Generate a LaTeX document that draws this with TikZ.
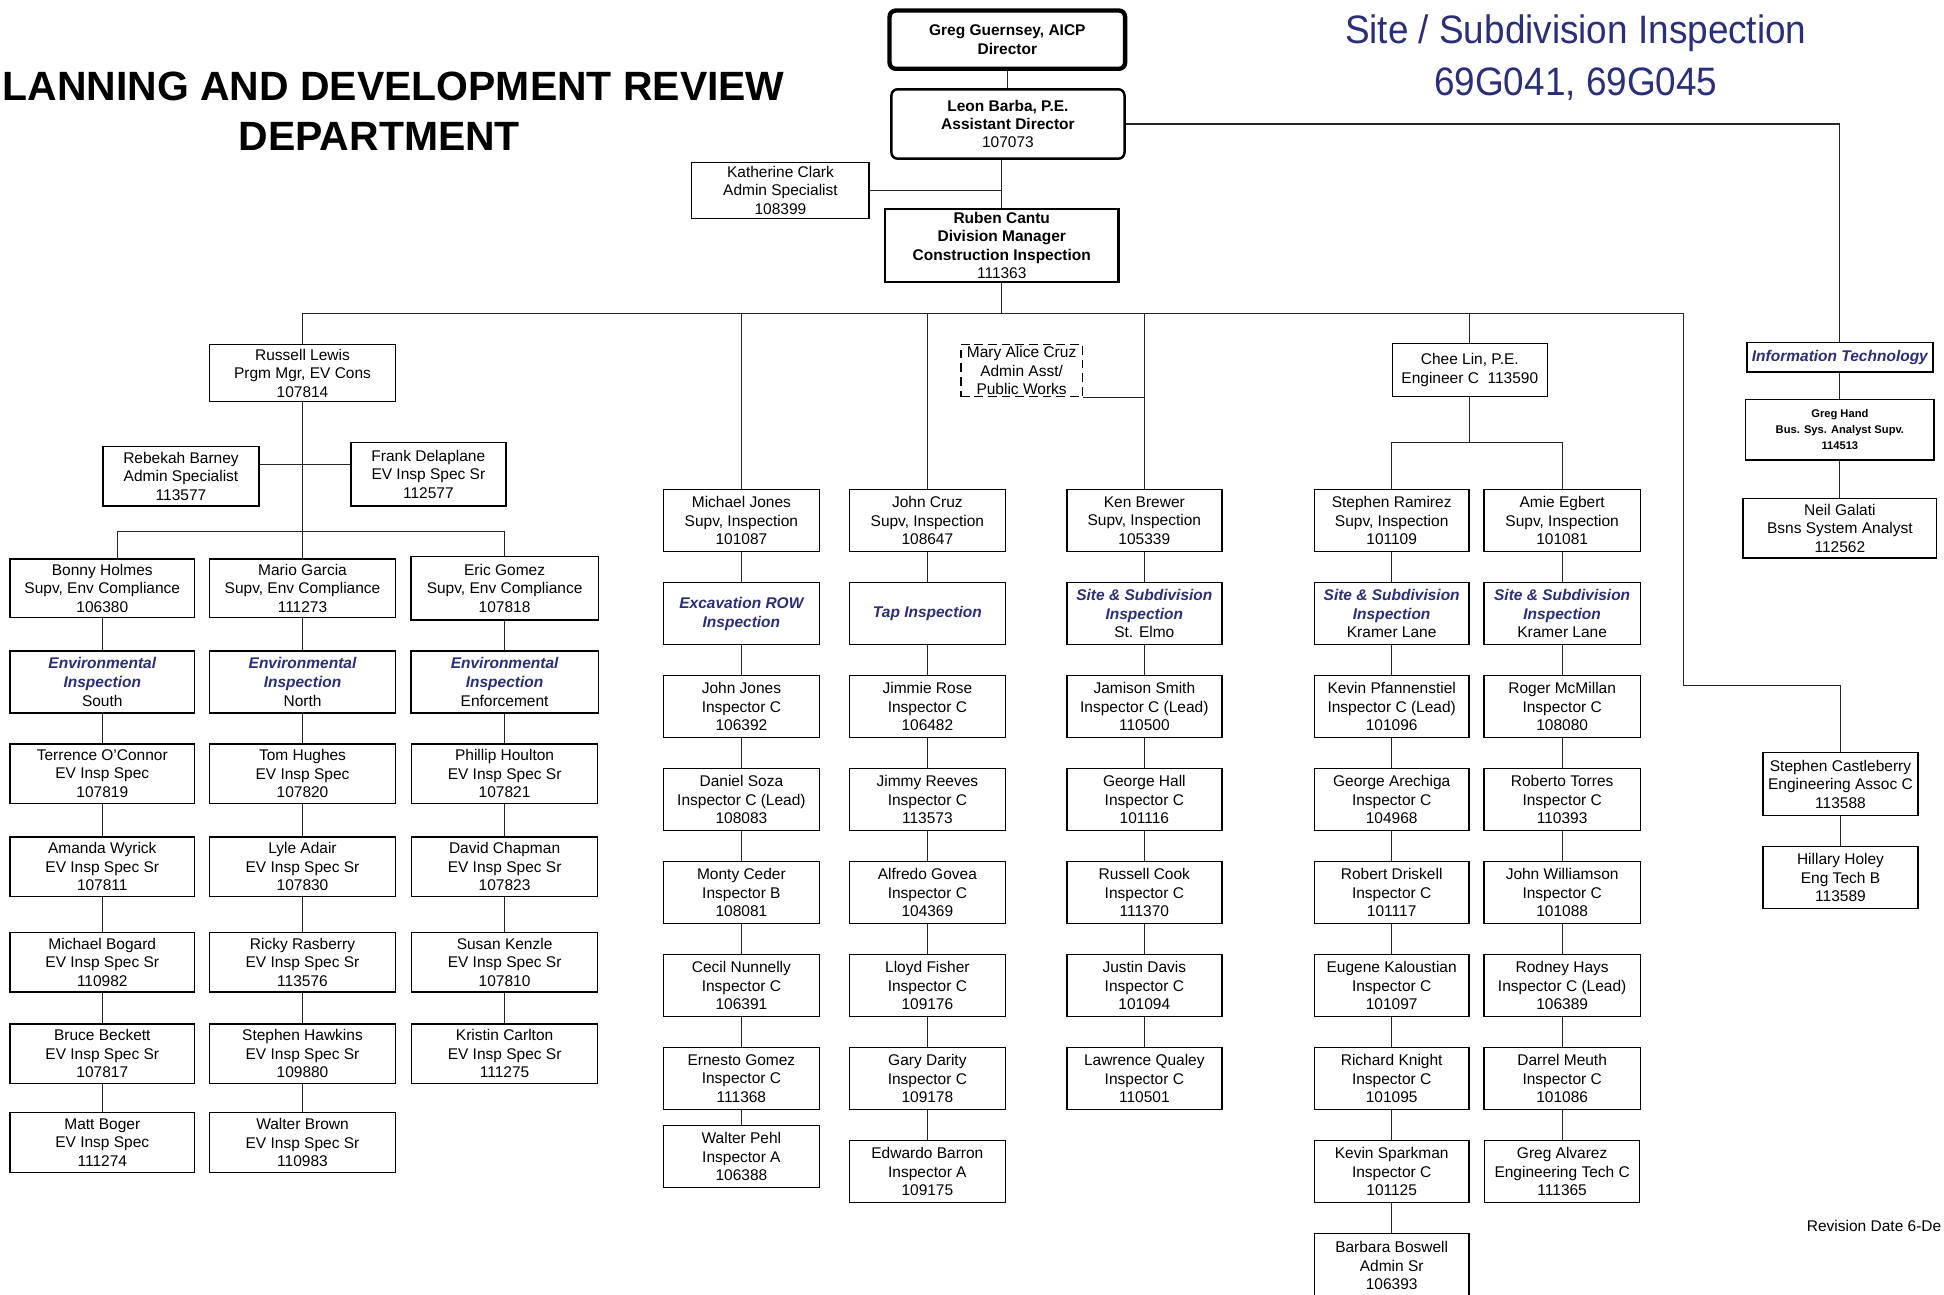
\documentclass[tikz,border=0pt]{standalone}
\usepackage{fontspec}
\setmainfont{Liberation Sans}
\newfontfamily\titlefont[FakeStretch=0.93]{Liberation Sans}
\definecolor{navy}{RGB}{43,46,120}
\def\unit#1{\textcolor{navy}{\bfseries\itshape #1}}
\tikzset{
  box/.style={draw, line width=1.1pt, fill=white, align=center, inner sep=0pt,
    minimum width=126, minimum height=50, font=\fontsize{12.5}{15}\selectfont},
  wbox/.style={box, minimum width=150, minimum height=48},
  boss/.style={box, line width=2pt, minimum width=188, font=\fontsize{12.5}{14.6}\selectfont\bfseries},
  link/.style={line width=0.9pt, black!85},
}

\begin{document}
\begin{tikzpicture}[x=1pt,y=-1pt]
\useasboundingbox (0,0) rectangle (1568,1044);

\node[anchor=base west, inner sep=0, font=\fontsize{33}{40}\selectfont\bfseries] (t1) at (2,81) {LANNING AND DEVELOPMENT REVIEW};
\node[anchor=base, inner sep=0, font=\fontsize{33}{40}\selectfont\bfseries] (t2) at (306,121) {DEPARTMENT};
\node[anchor=base, inner sep=0, text=navy, font={\titlefont\fontsize{32}{40}\selectfont}] (s1) at (1271,35) {Site / Subdivision Inspection};
\node[anchor=base, inner sep=0, text=navy, font={\titlefont\fontsize{32}{40}\selectfont}] (s2) at (1271,77) {69G041, 69G045};

% top of the chart
\node[boss, line width=3.5pt, rounded corners=5pt, minimum width=190, minimum height=47] (dir) at (812.5,32) {Greg Guernsey, AICP\\Director};
\node[boss, rounded corners=5pt, minimum height=56] (ad) at (813,100) {Leon Barba, P.E.\\Assistant Director\\\mdseries 107073};
\node[box, minimum width=143, minimum height=45] (kc) at (629.5,153.5) {Katherine Clark\\Admin Specialist\\108399};
\node[boss, minimum height=59] (dm) at (808,198) {Ruben Cantu\\Division Manager\\Construction Inspection\\\mdseries 111363};

% environmental
\node[wbox, minimum height=46] (rl) at (244,301) {Russell Lewis\\Prgm Mgr, EV Cons\\107814};
\node[box, minimum height=48] (rb) at (146,384) {Rebekah Barney\\Admin Specialist\\113577};
\node[box, minimum width=125, minimum height=51] (fd) at (345.5,382.5) {Frank Delaplane\\EV Insp Spec Sr\\112577};

\node[wbox, minimum width=149, minimum height=47] (bh1) at (82.5,474.5) {Bonny Holmes\\Supv, Env Compliance\\106380};
\node[wbox, minimum height=47] (mg1) at (244,474.5) {Mario Garcia\\Supv, Env Compliance\\111273};
\node[wbox, minimum width=151, minimum height=51] (eg1) at (407,474.5) {Eric Gomez\\Supv, Env Compliance\\107818};
\node[wbox, minimum width=149, minimum height=50] (bh2) at (82.5,550) {\unit{Environmental}\\\unit{Inspection}\\South};
\node[wbox, minimum height=50] (mg2) at (244,550) {\unit{Environmental}\\\unit{Inspection}\\North};
\node[wbox, minimum width=151, minimum height=50] (eg2) at (407,550) {\unit{Environmental}\\\unit{Inspection}\\Enforcement};

\foreach \y/\txt [count=\i from 3] in {624/{Terrence O'Connor\\EV Insp Spec\\107819},
    699/{Amanda Wyrick\\EV Insp Spec Sr\\107811}, 776/{Michael Bogard\\EV Insp Spec Sr\\110982},
    850/{Bruce Beckett\\EV Insp Spec Sr\\107817}, 921.5/{Matt Boger\\EV Insp Spec\\111274}}
  \node[wbox, minimum width=149] (bh\i) at (82.5,\y) {\txt};
\foreach \y/\txt [count=\i from 3] in {624/{Tom Hughes\\EV Insp Spec\\107820},
    699/{Lyle Adair\\EV Insp Spec Sr\\107830}, 776/{Ricky Rasberry\\EV Insp Spec Sr\\113576},
    850/{Stephen Hawkins\\EV Insp Spec Sr\\109880}, 921.5/{Walter Brown\\EV Insp Spec Sr\\110983}}
  \node[wbox] (mg\i) at (244,\y) {\txt};
\foreach \y/\txt [count=\i from 3] in {624/{Phillip Houlton\\EV Insp Spec Sr\\107821},
    699/{David Chapman\\EV Insp Spec Sr\\107823}, 776/{Susan Kenzle\\EV Insp Spec Sr\\107810},
    850/{Kristin Carlton\\EV Insp Spec Sr\\111275}}
  \node[wbox] (eg\i) at (407,\y) {\txt};

% inspection sections
\node[box, dashed, dash pattern=on 7pt off 4pt, minimum width=98, minimum height=42] (mac) at (824,299) {Mary Alice Cruz\\Admin Asst/\\Public Works};
\node[box, minimum width=125, minimum height=43] (cl) at (1185.5,298.5) {Chee Lin, P.E.\\Engineer C\ \ 113590};

\node[box] (mj1) at (598,420) {Michael Jones\\Supv, Inspection\\101087};
\node[box] (mj2) at (598,495) {\unit{Excavation ROW}\\\unit{Inspection}};
\foreach \txt [count=\i from 3] in {{John Jones\\Inspector C\\106392}, {Daniel Soza\\Inspector C (Lead)\\108083},
    {Monty Ceder\\Inspector B\\108081}, {Cecil Nunnelly\\Inspector C\\106391}, {Ernesto Gomez\\Inspector C\\111368}}
  \node[box] (mj\i) at (598,345+75*\i) {\txt};
\node[box] (mj8) at (598,933) {Walter Pehl\\Inspector A\\106388};

\node[box] (jc1) at (748,420) {John Cruz\\Supv, Inspection\\108647};
\node[box] (jc2) at (748,495) {\unit{Tap Inspection}};
\foreach \txt [count=\i from 3] in {{Jimmie Rose\\Inspector C\\106482}, {Jimmy Reeves\\Inspector C\\113573},
    {Alfredo Govea\\Inspector C\\104369}, {Lloyd Fisher\\Inspector C\\109176}, {Gary Darity\\Inspector C\\109178}}
  \node[box] (jc\i) at (748,345+75*\i) {\txt};
\node[box] (jc8) at (748,945) {Edwardo Barron\\Inspector A\\109175};

\node[box, minimum width=125] (kb1) at (923,420) {Ken Brewer\\Supv, Inspection\\105339};
\node[box, minimum width=125] (kb2) at (923,495) {\unit{Site \& Subdivision}\\\unit{Inspection}\\St. Elmo};
\foreach \txt [count=\i from 3] in {{Jamison Smith\\Inspector C (Lead)\\110500}, {George Hall\\Inspector C\\101116},
    {Russell Cook\\Inspector C\\111370}, {Justin Davis\\Inspector C\\101094}, {Lawrence Qualey\\Inspector C\\110501}}
  \node[box, minimum width=125] (kb\i) at (923,345+75*\i) {\txt};

\node[box, minimum width=125] (sr1) at (1122.5,420) {Stephen Ramirez\\Supv, Inspection\\101109};
\node[box, minimum width=125] (sr2) at (1122.5,495) {\unit{Site \& Subdivision}\\\unit{Inspection}\\Kramer Lane};
\foreach \txt [count=\i from 3] in {{Kevin Pfannenstiel\\Inspector C (Lead)\\101096}, {George Arechiga\\Inspector C\\104968},
    {Robert Driskell\\Inspector C\\101117}, {Eugene Kaloustian\\Inspector C\\101097}, {Richard Knight\\Inspector C\\101095}}
  \node[box, minimum width=125] (sr\i) at (1122.5,345+75*\i) {\txt};
\node[box, minimum width=125] (sr8) at (1122.5,945) {Kevin Sparkman\\Inspector C\\101125};
\node[box, minimum width=125, minimum height=52] (sr9) at (1122.5,1021) {Barbara Boswell\\Admin Sr\\106393};

\node[box] (ae1) at (1260,420) {Amie Egbert\\Supv, Inspection\\101081};
\node[box] (ae2) at (1260,495) {\unit{Site \& Subdivision}\\\unit{Inspection}\\Kramer Lane};
\foreach \txt [count=\i from 3] in {{Roger McMillan\\Inspector C\\108080}, {Roberto Torres\\Inspector C\\110393},
    {John Williamson\\Inspector C\\101088}, {Rodney Hays\\Inspector C (Lead)\\106389}, {Darrel Meuth\\Inspector C\\101086}}
  \node[box] (ae\i) at (1260,345+75*\i) {\txt};
\node[box, minimum width=125] (ae8) at (1260,945) {Greg Alvarez\\Engineering Tech C\\111365};

% IT and engineering
\node[wbox, minimum height=24] (it) at (1484,288) {\unit{Information Technology}};
\node[wbox, minimum width=152, minimum height=49, font=\fontsize{9}{13}\selectfont\bfseries] (gh) at (1484,346.5) {Greg Hand\\Bus. Sys. Analyst Supv.\\114513};
\node[wbox, minimum width=156] (ng) at (1484,426) {Neil Galati\\Bsns System Analyst\\112562};
\node[box, minimum width=125, minimum height=51] (sc) at (1484.5,632.5) {Stephen Castleberry\\Engineering Assoc C\\113588};
\node[box, minimum width=125] (hh) at (1484.5,708) {Hillary Holey\\Eng Tech B\\113589};

\node[anchor=east, inner sep=0, font=\fontsize{12.5}{15}\selectfont] (rev) at (1566,989) {Revision Date 6-De};

% connectors
\coordinate (bus) at (808,253);
\coordinate (jog) at (1358,553);
\coordinate (adm) at (244,375);
\coordinate (ebus) at (244,429);
\coordinate (ebusL) at (95,429);
\coordinate (cbus) at (1185.5,357);

\draw[link] (dir.south) -- (dir.south |- ad.north);
\draw[link] (ad.south -| dm) -- (dm.north);
\draw[link] (kc.east) -- (kc.east -| dm);
\draw[link] (ad.east) -| (it.north);
\draw[link] (dm.south) -- (bus);
\draw[link] (rl.north) |- (bus) -| (cl.north);
\draw[link] (bus) -| (jog) -| (sc.north);
\foreach \n in {mj1,jc1,kb1} \draw[link] (\n.north) -- (\n.north |- bus);
\draw[link] (mac.south east) -- (mac.south east -| kb1);

\draw[link] (rl.south) -- (mg1.north);
\draw[link] (rb.east |- adm) -- (fd.west |- adm);
\draw[link] (ebusL |- bh1.north) |- (ebus) -| (eg1.north);

\draw[link] (cl.south) -- (cbus);
\draw[link] (sr1.north) |- (cbus) -| (ae1.north);

\foreach \col/\m in {bh/6, mg/6, eg/5, mj/7, jc/7, kb/6, sr/8, ae/7}
  \foreach \i [count=\j from 2] in {1,...,\m}
    \draw[link] (\col\i.south) -- (\col\j.north);
\draw[link] (it) -- (gh);
\draw[link] (gh) -- (ng);
\draw[link] (sc) -- (hh);
\end{tikzpicture}
\end{document}
